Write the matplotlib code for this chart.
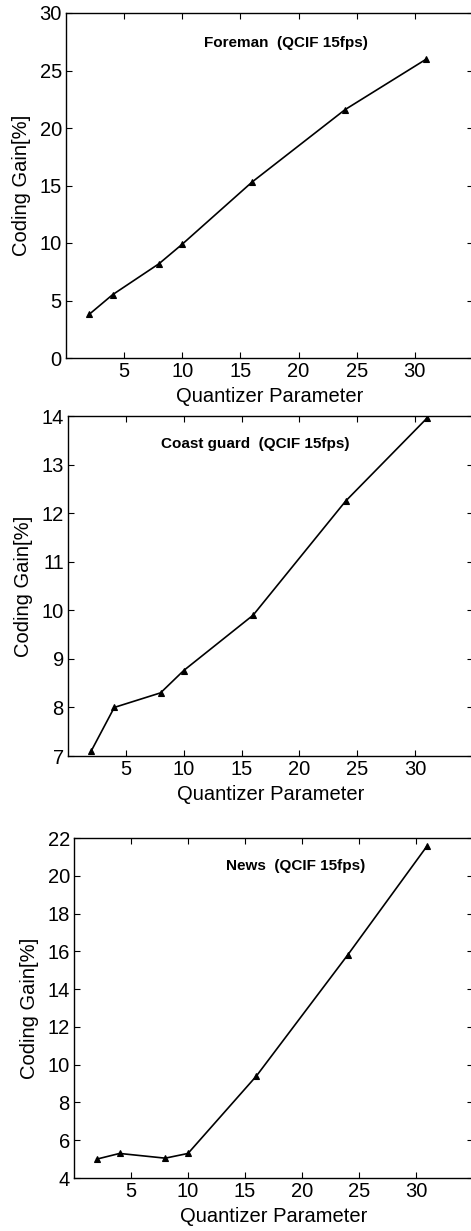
import numpy as np
import matplotlib.pyplot as plt

plt.rcParams['font.family'] = ['Liberation Sans', 'DejaVu Sans']

# Datos
qp = [2, 4, 8, 10, 16, 24, 31]
foreman = [3.8, 5.5, 8.2, 9.9, 15.3, 21.6, 26.0]
coastguard = [7.1, 8.0, 8.3, 8.76, 9.9, 12.25, 13.95]
news = [5.0, 5.3, 5.05, 5.3, 9.4, 15.8, 21.6]

titles = ['Foreman  (QCIF 15fps)', 'Coast guard  (QCIF 15fps)', 'News  (QCIF 15fps)']
series = [foreman, coastguard, news]
ylims = [(0, 30), (7, 14), (4, 22)]
yticks = [np.arange(0, 31, 5), np.arange(7, 15, 1), np.arange(4, 23, 2)]
title_pos = [(18.9, 27.4), (16.2, 13.43), (19.4, 20.5)]

W, H = 471, 1231
# posiciones de los ejes en pixeles: izquierda, arriba, abajo
boxes = [(66, 13, 358), (68, 416, 756), (74, 838, 1178)]

fig = plt.figure(figsize=(W / 100, H / 100), dpi=100)

for i in range(3):
    l, t, b = boxes[i]
    ax = fig.add_axes([l / W, 1 - b / H, (473 - l) / W, (b - t) / H])
    ax.plot(qp, series[i], color='black', linewidth=1.2, marker='^',
            markersize=5, markerfacecolor='black', markeredgewidth=0.8)
    ax.set_xlim(0, 35)
    ax.set_ylim(*ylims[i])
    ax.set_xticks([5, 10, 15, 20, 25, 30])
    ax.set_yticks(yticks[i])
    ax.tick_params(direction='in', top=True, right=True, length=4,
                   labelsize=14.5, pad=3)
    ax.set_xlabel('Quantizer Parameter', fontsize=14.5, labelpad=4)
    ax.set_ylabel('Coding Gain[%]', fontsize=14.5, labelpad=6)
    ax.text(title_pos[i][0], title_pos[i][1], titles[i], fontsize=11,
            fontweight='bold', ha='center', va='center')
    for s in ax.spines.values():
        s.set_linewidth(1.0)

fig.savefig('out.png', dpi=100)
